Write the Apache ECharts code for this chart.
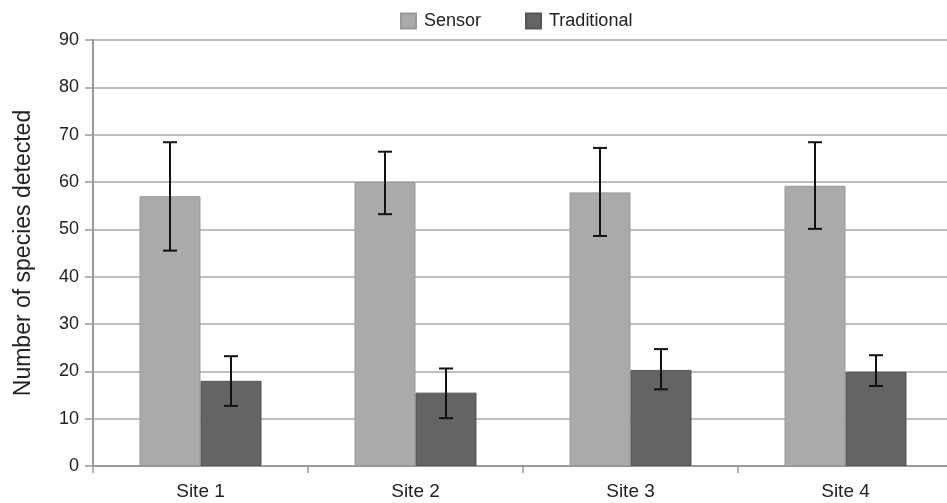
<!DOCTYPE html>
<html>
<head>
<meta charset="utf-8">
<script src="https://cdn.jsdelivr.net/npm/echarts@6/dist/echarts.min.js"></script>
<style>
  html, body { margin: 0; padding: 0; background: #fff; }
  #chart { width: 947px; height: 503px; }
</style>
</head>
<body>
<div id="chart"></div>
<script>
const sites = ["Site 1", "Site 2", "Site 3", "Site 4"];
const sensor = [57.0, 60.0, 57.8, 59.2];
const sensorLow = [45.5, 53.2, 48.6, 50.1];
const sensorHigh = [68.4, 66.4, 67.2, 68.4];
const traditional = [18.0, 15.5, 20.3, 19.9];
const tradLow = [12.7, 10.1, 16.2, 16.9];
const tradHigh = [23.2, 20.6, 24.7, 23.4];

const chart = echarts.init(document.getElementById('chart'));

// error bars: offset the whisker to the centre of each bar
function errorBars(low, high, offset) {
    return {
        type: 'custom',
        z: 10,
        data: sites.map((s, i) => [i, low[i], high[i]]),
        renderItem: function (params, api) {
            const lo = api.coord([api.value(0), api.value(1)]);
            const hi = api.coord([api.value(0), api.value(2)]);
            const x = lo[0] + offset;
            const cap = 7;
            const style = { stroke: '#111', lineWidth: 2 };
            return {
                type: 'group',
                children: [
                    { type: 'line', shape: { x1: x, y1: hi[1], x2: x, y2: lo[1] }, style: style },
                    { type: 'line', shape: { x1: x - cap, y1: hi[1], x2: x + cap, y2: hi[1] }, style: style },
                    { type: 'line', shape: { x1: x - cap, y1: lo[1], x2: x + cap, y2: lo[1] }, style: style }
                ]
            };
        }
    };
}

chart.setOption({
    backgroundColor: '#ffffff',
    animation: false,
    textStyle: { fontFamily: 'Liberation Sans, Arial, sans-serif' },
    legend: {
        top: 7,
        left: 395,
        icon: 'rect',
        itemWidth: 15,
        itemHeight: 15,
        itemGap: 44,
        textStyle: { fontSize: 18, color: '#222', padding: [0, 0, 0, 3] },
        data: ['Sensor', 'Traditional']
    },
    grid: { left: 93, top: 40, width: 860, height: 426, outerBoundsMode: 'none', containLabel: false },
    xAxis: {
        type: 'category',
        data: sites,
        axisLine: { lineStyle: { color: '#999', width: 2 } },
        axisTick: { show: true, length: 7, lineStyle: { color: '#999', width: 1.5 } },
        axisLabel: { fontSize: 19, color: '#222', margin: 16 }
    },
    yAxis: {
        type: 'value',
        min: 0,
        max: 90,
        interval: 10,
        name: 'Number of species detected',
        nameLocation: 'middle',
        nameGap: 58,
        nameTextStyle: { fontSize: 23, color: '#222' },
        axisLine: { show: true, lineStyle: { color: '#999', width: 2 } },
        axisTick: { show: true, length: 8, lineStyle: { color: '#999', width: 1.5 } },
        axisLabel: { fontSize: 18, color: '#222', margin: 14 },
        splitLine: { lineStyle: { color: '#aaa', width: 1.5 } }
    },
    series: [
        {
            name: 'Sensor',
            type: 'bar',
            data: sensor,
            barWidth: 61,
            barGap: '0%',
            itemStyle: { color: '#aaaaaa', borderColor: '#999', borderWidth: 1 }
        },
        {
            name: 'Traditional',
            type: 'bar',
            data: traditional,
            barWidth: 61,
            barGap: '0%',
            itemStyle: { color: '#646464', borderColor: '#555', borderWidth: 1 }
        },
        errorBars(sensorLow, sensorHigh, -30.5),
        errorBars(tradLow, tradHigh, 30.5)
    ]
});
</script>
</body>
</html>
